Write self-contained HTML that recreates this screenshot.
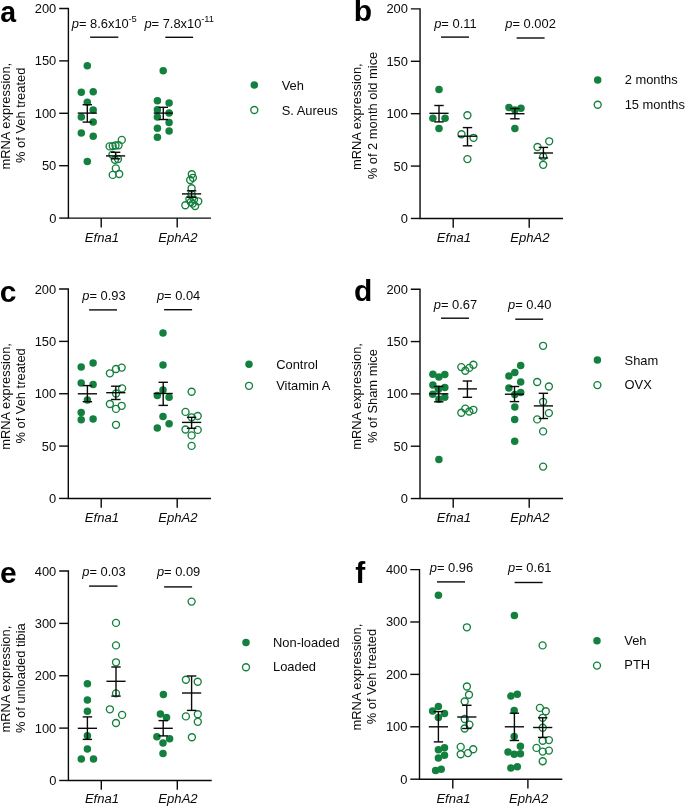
<!DOCTYPE html>
<html><head><meta charset="utf-8"><style>
html,body{margin:0;padding:0;background:#fff;}
svg{display:block;font-family:"Liberation Sans",sans-serif;will-change:transform;}
</style></head><body>
<svg width="685" height="807" viewBox="0 0 685 807">
<rect width="685" height="807" fill="#fff"/>
<text x="0.2" y="21.8" font-size="30" font-weight="bold" fill="#000" transform="translate(0.2,21.8) scale(0.95,1) translate(-0.2,-21.8)">a</text>
<path d="M59.20,8.47H68.40V218.09H211.00" fill="none" stroke="#0a0a0a" stroke-width="1.4" stroke-linejoin="miter"/>
<line x1="59.20" y1="218.09" x2="68.40" y2="218.09" stroke="#0a0a0a" stroke-width="1.4"/>
<text x="56.30" y="222.59" font-size="12.9" text-anchor="end" fill="#0a0a0a" >0</text>
<line x1="59.20" y1="165.69" x2="68.40" y2="165.69" stroke="#0a0a0a" stroke-width="1.4"/>
<text x="56.30" y="170.19" font-size="12.9" text-anchor="end" fill="#0a0a0a" >50</text>
<line x1="59.20" y1="113.28" x2="68.40" y2="113.28" stroke="#0a0a0a" stroke-width="1.4"/>
<text x="56.30" y="117.78" font-size="12.9" text-anchor="end" fill="#0a0a0a" >100</text>
<line x1="59.20" y1="60.88" x2="68.40" y2="60.88" stroke="#0a0a0a" stroke-width="1.4"/>
<text x="56.30" y="65.38" font-size="12.9" text-anchor="end" fill="#0a0a0a" >150</text>
<text x="56.30" y="12.97" font-size="12.9" text-anchor="end" fill="#0a0a0a" >200</text>
<line x1="101.20" y1="218.09" x2="101.20" y2="227.39" stroke="#0a0a0a" stroke-width="1.4"/>
<text x="101.90" y="241.70" font-size="13.1" text-anchor="middle" font-style="italic" fill="#0a0a0a" >Efna1</text>
<line x1="177.20" y1="218.09" x2="177.20" y2="227.39" stroke="#0a0a0a" stroke-width="1.4"/>
<text x="177.90" y="241.70" font-size="13.1" text-anchor="middle" font-style="italic" fill="#0a0a0a" >EphA2</text>
<text transform="translate(9.80,169.56) rotate(-90)" font-size="12.9" fill="#0a0a0a">mRNA expression,</text>
<text transform="translate(25.00,162.96) rotate(-90)" font-size="12.9" fill="#0a0a0a">% of Veh treated</text>
<text x="71.80" y="27.80" font-size="12.9" fill="#0a0a0a"><tspan font-style="italic">p</tspan>= 8.6x10</text>
<text x="128.40" y="21.90" font-size="9.4" text-anchor="start" fill="#0a0a0a" >-5</text>
<line x1="90.10" y1="37.20" x2="118.30" y2="37.20" stroke="#0a0a0a" stroke-width="1.4"/>
<text x="144.40" y="27.80" font-size="12.9" fill="#0a0a0a"><tspan font-style="italic">p</tspan>= 7.8x10</text>
<text x="201.20" y="22.10" font-size="9.4" text-anchor="start" fill="#0a0a0a" >-11</text>
<line x1="165.30" y1="37.30" x2="193.10" y2="37.30" stroke="#0a0a0a" stroke-width="1.4"/>
<circle cx="254.30" cy="85.10" r="3.75" fill="#14803f"/>
<text x="281.70" y="89.60" font-size="12.9" text-anchor="start" fill="#0a0a0a" >Veh</text>
<circle cx="254.30" cy="110.00" r="3.5" fill="none" stroke="#14803f" stroke-width="1.35"/>
<text x="281.70" y="114.50" font-size="12.9" text-anchor="start" fill="#0a0a0a" >S. Aureus</text>
<circle cx="87.30" cy="65.80" r="3.75" fill="#14803f"/>
<circle cx="81.30" cy="92.20" r="3.75" fill="#14803f"/>
<circle cx="93.20" cy="91.70" r="3.75" fill="#14803f"/>
<circle cx="87.30" cy="102.20" r="3.75" fill="#14803f"/>
<circle cx="93.20" cy="110.00" r="3.75" fill="#14803f"/>
<circle cx="81.30" cy="117.00" r="3.75" fill="#14803f"/>
<circle cx="93.20" cy="121.90" r="3.75" fill="#14803f"/>
<circle cx="81.30" cy="132.90" r="3.75" fill="#14803f"/>
<circle cx="93.20" cy="136.30" r="3.75" fill="#14803f"/>
<circle cx="87.30" cy="161.60" r="3.75" fill="#14803f"/>
<circle cx="121.80" cy="139.90" r="3.5" fill="none" stroke="#14803f" stroke-width="1.35"/>
<circle cx="109.60" cy="146.40" r="3.5" fill="none" stroke="#14803f" stroke-width="1.35"/>
<circle cx="112.70" cy="146.10" r="3.5" fill="none" stroke="#14803f" stroke-width="1.35"/>
<circle cx="115.50" cy="145.50" r="3.5" fill="none" stroke="#14803f" stroke-width="1.35"/>
<circle cx="118.60" cy="145.20" r="3.5" fill="none" stroke="#14803f" stroke-width="1.35"/>
<circle cx="112.40" cy="154.80" r="3.5" fill="none" stroke="#14803f" stroke-width="1.35"/>
<circle cx="118.00" cy="159.10" r="3.5" fill="none" stroke="#14803f" stroke-width="1.35"/>
<circle cx="114.90" cy="159.70" r="3.5" fill="none" stroke="#14803f" stroke-width="1.35"/>
<circle cx="115.80" cy="168.40" r="3.5" fill="none" stroke="#14803f" stroke-width="1.35"/>
<circle cx="112.70" cy="174.90" r="3.5" fill="none" stroke="#14803f" stroke-width="1.35"/>
<circle cx="119.20" cy="174.00" r="3.5" fill="none" stroke="#14803f" stroke-width="1.35"/>
<circle cx="163.20" cy="70.85" r="3.75" fill="#14803f"/>
<circle cx="157.40" cy="100.80" r="3.75" fill="#14803f"/>
<circle cx="169.10" cy="103.00" r="3.75" fill="#14803f"/>
<circle cx="157.40" cy="109.65" r="3.75" fill="#14803f"/>
<circle cx="169.10" cy="113.10" r="3.75" fill="#14803f"/>
<circle cx="157.40" cy="116.90" r="3.75" fill="#14803f"/>
<circle cx="169.10" cy="122.60" r="3.75" fill="#14803f"/>
<circle cx="157.40" cy="128.20" r="3.75" fill="#14803f"/>
<circle cx="169.10" cy="131.10" r="3.75" fill="#14803f"/>
<circle cx="157.40" cy="137.30" r="3.75" fill="#14803f"/>
<circle cx="191.80" cy="174.20" r="3.5" fill="none" stroke="#14803f" stroke-width="1.35"/>
<circle cx="192.90" cy="177.80" r="3.5" fill="none" stroke="#14803f" stroke-width="1.35"/>
<circle cx="190.20" cy="180.00" r="3.5" fill="none" stroke="#14803f" stroke-width="1.35"/>
<circle cx="191.60" cy="188.20" r="3.5" fill="none" stroke="#14803f" stroke-width="1.35"/>
<circle cx="191.60" cy="194.30" r="3.5" fill="none" stroke="#14803f" stroke-width="1.35"/>
<circle cx="189.40" cy="199.30" r="3.5" fill="none" stroke="#14803f" stroke-width="1.35"/>
<circle cx="194.00" cy="199.60" r="3.5" fill="none" stroke="#14803f" stroke-width="1.35"/>
<circle cx="190.80" cy="202.00" r="3.5" fill="none" stroke="#14803f" stroke-width="1.35"/>
<circle cx="192.60" cy="203.60" r="3.5" fill="none" stroke="#14803f" stroke-width="1.35"/>
<circle cx="198.30" cy="201.30" r="3.5" fill="none" stroke="#14803f" stroke-width="1.35"/>
<circle cx="185.30" cy="205.20" r="3.5" fill="none" stroke="#14803f" stroke-width="1.35"/>
<circle cx="195.10" cy="206.00" r="3.5" fill="none" stroke="#14803f" stroke-width="1.35"/>
<line x1="77.70" y1="113.10" x2="96.90" y2="113.10" stroke="#0a0a0a" stroke-width="1.4"/>
<line x1="87.30" y1="104.70" x2="87.30" y2="122.10" stroke="#0a0a0a" stroke-width="1.4"/>
<line x1="82.60" y1="104.70" x2="92.00" y2="104.70" stroke="#0a0a0a" stroke-width="1.4"/>
<line x1="82.60" y1="122.10" x2="92.00" y2="122.10" stroke="#0a0a0a" stroke-width="1.4"/>
<line x1="106.00" y1="155.90" x2="125.20" y2="155.90" stroke="#0a0a0a" stroke-width="1.4"/>
<line x1="115.60" y1="152.30" x2="115.60" y2="158.80" stroke="#0a0a0a" stroke-width="1.4"/>
<line x1="110.90" y1="152.30" x2="120.30" y2="152.30" stroke="#0a0a0a" stroke-width="1.4"/>
<line x1="110.90" y1="158.80" x2="120.30" y2="158.80" stroke="#0a0a0a" stroke-width="1.4"/>
<line x1="153.70" y1="113.10" x2="172.90" y2="113.10" stroke="#0a0a0a" stroke-width="1.4"/>
<line x1="163.30" y1="107.30" x2="163.30" y2="119.50" stroke="#0a0a0a" stroke-width="1.4"/>
<line x1="158.60" y1="107.30" x2="168.00" y2="107.30" stroke="#0a0a0a" stroke-width="1.4"/>
<line x1="158.60" y1="119.50" x2="168.00" y2="119.50" stroke="#0a0a0a" stroke-width="1.4"/>
<line x1="182.00" y1="193.90" x2="201.20" y2="193.90" stroke="#0a0a0a" stroke-width="1.4"/>
<line x1="191.60" y1="190.80" x2="191.60" y2="197.30" stroke="#0a0a0a" stroke-width="1.4"/>
<line x1="186.90" y1="190.80" x2="196.30" y2="190.80" stroke="#0a0a0a" stroke-width="1.4"/>
<line x1="186.90" y1="197.30" x2="196.30" y2="197.30" stroke="#0a0a0a" stroke-width="1.4"/>
<text x="353.8" y="21.3" font-size="30" font-weight="bold" fill="#000" transform="translate(353.8,21.3) scale(1.0,1) translate(-353.8,-21.3)">b</text>
<path d="M410.85,8.90H420.05V218.46H563.00" fill="none" stroke="#0a0a0a" stroke-width="1.4" stroke-linejoin="miter"/>
<line x1="410.85" y1="218.46" x2="420.05" y2="218.46" stroke="#0a0a0a" stroke-width="1.4"/>
<text x="407.95" y="222.96" font-size="12.9" text-anchor="end" fill="#0a0a0a" >0</text>
<line x1="410.85" y1="166.07" x2="420.05" y2="166.07" stroke="#0a0a0a" stroke-width="1.4"/>
<text x="407.95" y="170.57" font-size="12.9" text-anchor="end" fill="#0a0a0a" >50</text>
<line x1="410.85" y1="113.68" x2="420.05" y2="113.68" stroke="#0a0a0a" stroke-width="1.4"/>
<text x="407.95" y="118.18" font-size="12.9" text-anchor="end" fill="#0a0a0a" >100</text>
<line x1="410.85" y1="61.29" x2="420.05" y2="61.29" stroke="#0a0a0a" stroke-width="1.4"/>
<text x="407.95" y="65.79" font-size="12.9" text-anchor="end" fill="#0a0a0a" >150</text>
<text x="407.95" y="13.40" font-size="12.9" text-anchor="end" fill="#0a0a0a" >200</text>
<line x1="453.20" y1="218.46" x2="453.20" y2="227.76" stroke="#0a0a0a" stroke-width="1.4"/>
<text x="453.90" y="242.00" font-size="13.1" text-anchor="middle" font-style="italic" fill="#0a0a0a" >Efna1</text>
<line x1="529.20" y1="218.46" x2="529.20" y2="227.76" stroke="#0a0a0a" stroke-width="1.4"/>
<text x="529.90" y="242.00" font-size="13.1" text-anchor="middle" font-style="italic" fill="#0a0a0a" >EphA2</text>
<text transform="translate(360.90,170.06) rotate(-90)" font-size="12.9" fill="#0a0a0a">mRNA expression,</text>
<text transform="translate(376.90,179.26) rotate(-90)" font-size="12.9" fill="#0a0a0a">% of 2 month old mice</text>
<text x="434.20" y="27.90" font-size="12.9" fill="#0a0a0a"><tspan font-style="italic">p</tspan>= 0.11</text>
<line x1="441.00" y1="37.10" x2="469.00" y2="37.10" stroke="#0a0a0a" stroke-width="1.4"/>
<text x="505.30" y="27.90" font-size="12.9" fill="#0a0a0a"><tspan font-style="italic">p</tspan>= 0.002</text>
<line x1="516.60" y1="38.00" x2="544.60" y2="38.00" stroke="#0a0a0a" stroke-width="1.4"/>
<circle cx="597.70" cy="80.00" r="3.75" fill="#14803f"/>
<text x="624.70" y="84.40" font-size="12.9" text-anchor="start" fill="#0a0a0a" >2 months</text>
<circle cx="597.70" cy="104.70" r="3.5" fill="none" stroke="#14803f" stroke-width="1.35"/>
<text x="624.70" y="109.10" font-size="12.9" text-anchor="start" fill="#0a0a0a" >15 months</text>
<circle cx="439.00" cy="89.60" r="3.75" fill="#14803f"/>
<circle cx="432.90" cy="118.20" r="3.75" fill="#14803f"/>
<circle cx="445.10" cy="118.20" r="3.75" fill="#14803f"/>
<circle cx="439.00" cy="128.40" r="3.75" fill="#14803f"/>
<circle cx="467.40" cy="115.20" r="3.5" fill="none" stroke="#14803f" stroke-width="1.35"/>
<circle cx="461.50" cy="134.20" r="3.5" fill="none" stroke="#14803f" stroke-width="1.35"/>
<circle cx="473.50" cy="137.80" r="3.5" fill="none" stroke="#14803f" stroke-width="1.35"/>
<circle cx="467.40" cy="159.10" r="3.5" fill="none" stroke="#14803f" stroke-width="1.35"/>
<circle cx="509.00" cy="107.40" r="3.75" fill="#14803f"/>
<circle cx="521.00" cy="108.30" r="3.75" fill="#14803f"/>
<circle cx="514.90" cy="110.10" r="3.75" fill="#14803f"/>
<circle cx="514.90" cy="128.50" r="3.75" fill="#14803f"/>
<circle cx="549.20" cy="141.30" r="3.5" fill="none" stroke="#14803f" stroke-width="1.35"/>
<circle cx="537.50" cy="147.00" r="3.5" fill="none" stroke="#14803f" stroke-width="1.35"/>
<circle cx="543.20" cy="156.60" r="3.5" fill="none" stroke="#14803f" stroke-width="1.35"/>
<circle cx="543.20" cy="164.80" r="3.5" fill="none" stroke="#14803f" stroke-width="1.35"/>
<line x1="429.40" y1="113.30" x2="448.60" y2="113.30" stroke="#0a0a0a" stroke-width="1.4"/>
<line x1="439.00" y1="105.50" x2="439.00" y2="121.90" stroke="#0a0a0a" stroke-width="1.4"/>
<line x1="434.30" y1="105.50" x2="443.70" y2="105.50" stroke="#0a0a0a" stroke-width="1.4"/>
<line x1="434.30" y1="121.90" x2="443.70" y2="121.90" stroke="#0a0a0a" stroke-width="1.4"/>
<line x1="457.90" y1="136.20" x2="477.10" y2="136.20" stroke="#0a0a0a" stroke-width="1.4"/>
<line x1="467.50" y1="127.60" x2="467.50" y2="145.80" stroke="#0a0a0a" stroke-width="1.4"/>
<line x1="462.80" y1="127.60" x2="472.20" y2="127.60" stroke="#0a0a0a" stroke-width="1.4"/>
<line x1="462.80" y1="145.80" x2="472.20" y2="145.80" stroke="#0a0a0a" stroke-width="1.4"/>
<line x1="505.30" y1="113.70" x2="524.50" y2="113.70" stroke="#0a0a0a" stroke-width="1.4"/>
<line x1="514.90" y1="108.50" x2="514.90" y2="118.80" stroke="#0a0a0a" stroke-width="1.4"/>
<line x1="510.20" y1="108.50" x2="519.60" y2="108.50" stroke="#0a0a0a" stroke-width="1.4"/>
<line x1="510.20" y1="118.80" x2="519.60" y2="118.80" stroke="#0a0a0a" stroke-width="1.4"/>
<line x1="533.80" y1="153.00" x2="553.00" y2="153.00" stroke="#0a0a0a" stroke-width="1.4"/>
<line x1="543.40" y1="147.40" x2="543.40" y2="158.00" stroke="#0a0a0a" stroke-width="1.4"/>
<line x1="538.70" y1="147.40" x2="548.10" y2="147.40" stroke="#0a0a0a" stroke-width="1.4"/>
<line x1="538.70" y1="158.00" x2="548.10" y2="158.00" stroke="#0a0a0a" stroke-width="1.4"/>
<text x="-0.3" y="301.6" font-size="30" font-weight="bold" fill="#000" transform="translate(-0.3,301.6) scale(1.0,1) translate(0.3,-301.6)">c</text>
<path d="M59.10,289.04H68.30V498.43H211.00" fill="none" stroke="#0a0a0a" stroke-width="1.4" stroke-linejoin="miter"/>
<line x1="59.10" y1="498.43" x2="68.30" y2="498.43" stroke="#0a0a0a" stroke-width="1.4"/>
<text x="56.20" y="502.93" font-size="12.9" text-anchor="end" fill="#0a0a0a" >0</text>
<line x1="59.10" y1="446.08" x2="68.30" y2="446.08" stroke="#0a0a0a" stroke-width="1.4"/>
<text x="56.20" y="450.58" font-size="12.9" text-anchor="end" fill="#0a0a0a" >50</text>
<line x1="59.10" y1="393.74" x2="68.30" y2="393.74" stroke="#0a0a0a" stroke-width="1.4"/>
<text x="56.20" y="398.24" font-size="12.9" text-anchor="end" fill="#0a0a0a" >100</text>
<line x1="59.10" y1="341.39" x2="68.30" y2="341.39" stroke="#0a0a0a" stroke-width="1.4"/>
<text x="56.20" y="345.89" font-size="12.9" text-anchor="end" fill="#0a0a0a" >150</text>
<text x="56.20" y="293.54" font-size="12.9" text-anchor="end" fill="#0a0a0a" >200</text>
<line x1="101.20" y1="498.43" x2="101.20" y2="507.73" stroke="#0a0a0a" stroke-width="1.4"/>
<text x="101.90" y="522.10" font-size="13.1" text-anchor="middle" font-style="italic" fill="#0a0a0a" >Efna1</text>
<line x1="177.20" y1="498.43" x2="177.20" y2="507.73" stroke="#0a0a0a" stroke-width="1.4"/>
<text x="177.90" y="522.10" font-size="13.1" text-anchor="middle" font-style="italic" fill="#0a0a0a" >EphA2</text>
<text transform="translate(9.80,449.86) rotate(-90)" font-size="12.9" fill="#0a0a0a">mRNA expression,</text>
<text transform="translate(25.05,443.56) rotate(-90)" font-size="12.9" fill="#0a0a0a">% of Veh treated</text>
<text x="82.30" y="299.90" font-size="12.9" fill="#0a0a0a"><tspan font-style="italic">p</tspan>= 0.93</text>
<line x1="89.10" y1="309.90" x2="117.00" y2="309.90" stroke="#0a0a0a" stroke-width="1.4"/>
<text x="156.90" y="299.90" font-size="12.9" fill="#0a0a0a"><tspan font-style="italic">p</tspan>= 0.04</text>
<line x1="164.10" y1="309.70" x2="192.10" y2="309.70" stroke="#0a0a0a" stroke-width="1.4"/>
<circle cx="249.00" cy="364.20" r="3.75" fill="#14803f"/>
<text x="276.20" y="368.70" font-size="12.9" text-anchor="start" fill="#0a0a0a" >Control</text>
<circle cx="249.00" cy="385.80" r="3.5" fill="none" stroke="#14803f" stroke-width="1.35"/>
<text x="276.20" y="390.10" font-size="12.9" text-anchor="start" fill="#0a0a0a" >Vitamin A</text>
<circle cx="81.20" cy="367.00" r="3.75" fill="#14803f"/>
<circle cx="93.10" cy="363.10" r="3.75" fill="#14803f"/>
<circle cx="81.20" cy="382.90" r="3.75" fill="#14803f"/>
<circle cx="93.10" cy="384.60" r="3.75" fill="#14803f"/>
<circle cx="87.40" cy="399.90" r="3.75" fill="#14803f"/>
<circle cx="81.20" cy="412.60" r="3.75" fill="#14803f"/>
<circle cx="81.20" cy="419.70" r="3.75" fill="#14803f"/>
<circle cx="93.10" cy="419.10" r="3.75" fill="#14803f"/>
<circle cx="109.90" cy="373.30" r="3.5" fill="none" stroke="#14803f" stroke-width="1.35"/>
<circle cx="116.00" cy="369.00" r="3.5" fill="none" stroke="#14803f" stroke-width="1.35"/>
<circle cx="121.70" cy="367.60" r="3.5" fill="none" stroke="#14803f" stroke-width="1.35"/>
<circle cx="122.10" cy="388.40" r="3.5" fill="none" stroke="#14803f" stroke-width="1.35"/>
<circle cx="116.00" cy="393.50" r="3.5" fill="none" stroke="#14803f" stroke-width="1.35"/>
<circle cx="109.90" cy="404.00" r="3.5" fill="none" stroke="#14803f" stroke-width="1.35"/>
<circle cx="121.70" cy="405.80" r="3.5" fill="none" stroke="#14803f" stroke-width="1.35"/>
<circle cx="116.00" cy="408.90" r="3.5" fill="none" stroke="#14803f" stroke-width="1.35"/>
<circle cx="116.00" cy="424.80" r="3.5" fill="none" stroke="#14803f" stroke-width="1.35"/>
<circle cx="163.00" cy="333.10" r="3.75" fill="#14803f"/>
<circle cx="163.00" cy="364.90" r="3.75" fill="#14803f"/>
<circle cx="163.00" cy="390.10" r="3.75" fill="#14803f"/>
<circle cx="157.30" cy="395.60" r="3.75" fill="#14803f"/>
<circle cx="169.10" cy="397.20" r="3.75" fill="#14803f"/>
<circle cx="163.00" cy="416.60" r="3.75" fill="#14803f"/>
<circle cx="169.10" cy="423.80" r="3.75" fill="#14803f"/>
<circle cx="157.30" cy="427.90" r="3.75" fill="#14803f"/>
<circle cx="191.60" cy="391.70" r="3.5" fill="none" stroke="#14803f" stroke-width="1.35"/>
<circle cx="185.50" cy="411.90" r="3.5" fill="none" stroke="#14803f" stroke-width="1.35"/>
<circle cx="191.60" cy="417.30" r="3.5" fill="none" stroke="#14803f" stroke-width="1.35"/>
<circle cx="197.70" cy="416.00" r="3.5" fill="none" stroke="#14803f" stroke-width="1.35"/>
<circle cx="185.50" cy="429.50" r="3.5" fill="none" stroke="#14803f" stroke-width="1.35"/>
<circle cx="197.70" cy="429.90" r="3.5" fill="none" stroke="#14803f" stroke-width="1.35"/>
<circle cx="191.60" cy="435.40" r="3.5" fill="none" stroke="#14803f" stroke-width="1.35"/>
<circle cx="191.60" cy="445.90" r="3.5" fill="none" stroke="#14803f" stroke-width="1.35"/>
<line x1="77.80" y1="393.80" x2="97.00" y2="393.80" stroke="#0a0a0a" stroke-width="1.4"/>
<line x1="87.40" y1="385.60" x2="87.40" y2="401.70" stroke="#0a0a0a" stroke-width="1.4"/>
<line x1="82.70" y1="385.60" x2="92.10" y2="385.60" stroke="#0a0a0a" stroke-width="1.4"/>
<line x1="82.70" y1="401.70" x2="92.10" y2="401.70" stroke="#0a0a0a" stroke-width="1.4"/>
<line x1="106.20" y1="392.70" x2="125.40" y2="392.70" stroke="#0a0a0a" stroke-width="1.4"/>
<line x1="115.80" y1="386.20" x2="115.80" y2="399.50" stroke="#0a0a0a" stroke-width="1.4"/>
<line x1="111.10" y1="386.20" x2="120.50" y2="386.20" stroke="#0a0a0a" stroke-width="1.4"/>
<line x1="111.10" y1="399.50" x2="120.50" y2="399.50" stroke="#0a0a0a" stroke-width="1.4"/>
<line x1="153.60" y1="393.50" x2="172.80" y2="393.50" stroke="#0a0a0a" stroke-width="1.4"/>
<line x1="163.20" y1="382.30" x2="163.20" y2="405.40" stroke="#0a0a0a" stroke-width="1.4"/>
<line x1="158.50" y1="382.30" x2="167.90" y2="382.30" stroke="#0a0a0a" stroke-width="1.4"/>
<line x1="158.50" y1="405.40" x2="167.90" y2="405.40" stroke="#0a0a0a" stroke-width="1.4"/>
<line x1="182.00" y1="422.40" x2="201.20" y2="422.40" stroke="#0a0a0a" stroke-width="1.4"/>
<line x1="191.60" y1="417.30" x2="191.60" y2="428.30" stroke="#0a0a0a" stroke-width="1.4"/>
<line x1="186.90" y1="417.30" x2="196.30" y2="417.30" stroke="#0a0a0a" stroke-width="1.4"/>
<line x1="186.90" y1="428.30" x2="196.30" y2="428.30" stroke="#0a0a0a" stroke-width="1.4"/>
<text x="353.9" y="301.2" font-size="30" font-weight="bold" fill="#000" transform="translate(353.9,301.2) scale(1.0,1) translate(-353.9,-301.2)">d</text>
<path d="M410.80,289.24H420.00V498.55H563.00" fill="none" stroke="#0a0a0a" stroke-width="1.4" stroke-linejoin="miter"/>
<line x1="410.80" y1="498.55" x2="420.00" y2="498.55" stroke="#0a0a0a" stroke-width="1.4"/>
<text x="407.90" y="503.05" font-size="12.9" text-anchor="end" fill="#0a0a0a" >0</text>
<line x1="410.80" y1="446.22" x2="420.00" y2="446.22" stroke="#0a0a0a" stroke-width="1.4"/>
<text x="407.90" y="450.72" font-size="12.9" text-anchor="end" fill="#0a0a0a" >50</text>
<line x1="410.80" y1="393.89" x2="420.00" y2="393.89" stroke="#0a0a0a" stroke-width="1.4"/>
<text x="407.90" y="398.39" font-size="12.9" text-anchor="end" fill="#0a0a0a" >100</text>
<line x1="410.80" y1="341.57" x2="420.00" y2="341.57" stroke="#0a0a0a" stroke-width="1.4"/>
<text x="407.90" y="346.07" font-size="12.9" text-anchor="end" fill="#0a0a0a" >150</text>
<text x="407.90" y="293.74" font-size="12.9" text-anchor="end" fill="#0a0a0a" >200</text>
<line x1="453.20" y1="498.55" x2="453.20" y2="507.85" stroke="#0a0a0a" stroke-width="1.4"/>
<text x="453.90" y="522.10" font-size="13.1" text-anchor="middle" font-style="italic" fill="#0a0a0a" >Efna1</text>
<line x1="529.20" y1="498.55" x2="529.20" y2="507.85" stroke="#0a0a0a" stroke-width="1.4"/>
<text x="529.90" y="522.10" font-size="13.1" text-anchor="middle" font-style="italic" fill="#0a0a0a" >EphA2</text>
<text transform="translate(361.10,449.86) rotate(-90)" font-size="12.9" fill="#0a0a0a">mRNA expression,</text>
<text transform="translate(376.90,442.96) rotate(-90)" font-size="12.9" fill="#0a0a0a">% of Sham mice</text>
<text x="433.80" y="309.40" font-size="12.9" fill="#0a0a0a"><tspan font-style="italic">p</tspan>= 0.67</text>
<line x1="441.00" y1="318.20" x2="469.00" y2="318.20" stroke="#0a0a0a" stroke-width="1.4"/>
<text x="508.00" y="309.40" font-size="12.9" fill="#0a0a0a"><tspan font-style="italic">p</tspan>= 0.40</text>
<line x1="515.30" y1="319.20" x2="543.10" y2="319.20" stroke="#0a0a0a" stroke-width="1.4"/>
<circle cx="597.40" cy="360.00" r="3.75" fill="#14803f"/>
<text x="624.60" y="364.70" font-size="12.9" text-anchor="start" fill="#0a0a0a" >Sham</text>
<circle cx="597.40" cy="385.10" r="3.5" fill="none" stroke="#14803f" stroke-width="1.35"/>
<text x="624.60" y="389.20" font-size="12.9" text-anchor="start" fill="#0a0a0a" >OVX</text>
<circle cx="432.90" cy="374.20" r="3.75" fill="#14803f"/>
<circle cx="444.80" cy="374.40" r="3.75" fill="#14803f"/>
<circle cx="438.90" cy="377.10" r="3.75" fill="#14803f"/>
<circle cx="432.90" cy="385.10" r="3.75" fill="#14803f"/>
<circle cx="444.80" cy="387.60" r="3.75" fill="#14803f"/>
<circle cx="438.40" cy="389.30" r="3.75" fill="#14803f"/>
<circle cx="432.70" cy="394.30" r="3.75" fill="#14803f"/>
<circle cx="444.80" cy="397.20" r="3.75" fill="#14803f"/>
<circle cx="438.90" cy="399.20" r="3.75" fill="#14803f"/>
<circle cx="438.90" cy="459.50" r="3.75" fill="#14803f"/>
<circle cx="461.30" cy="367.10" r="3.5" fill="none" stroke="#14803f" stroke-width="1.35"/>
<circle cx="465.30" cy="370.70" r="3.5" fill="none" stroke="#14803f" stroke-width="1.35"/>
<circle cx="469.30" cy="367.90" r="3.5" fill="none" stroke="#14803f" stroke-width="1.35"/>
<circle cx="473.40" cy="364.70" r="3.5" fill="none" stroke="#14803f" stroke-width="1.35"/>
<circle cx="461.30" cy="412.70" r="3.5" fill="none" stroke="#14803f" stroke-width="1.35"/>
<circle cx="465.30" cy="408.60" r="3.5" fill="none" stroke="#14803f" stroke-width="1.35"/>
<circle cx="469.30" cy="411.50" r="3.5" fill="none" stroke="#14803f" stroke-width="1.35"/>
<circle cx="473.40" cy="409.80" r="3.5" fill="none" stroke="#14803f" stroke-width="1.35"/>
<circle cx="520.70" cy="365.40" r="3.75" fill="#14803f"/>
<circle cx="514.80" cy="372.40" r="3.75" fill="#14803f"/>
<circle cx="508.90" cy="376.00" r="3.75" fill="#14803f"/>
<circle cx="520.70" cy="382.10" r="3.75" fill="#14803f"/>
<circle cx="508.90" cy="388.10" r="3.75" fill="#14803f"/>
<circle cx="520.70" cy="392.50" r="3.75" fill="#14803f"/>
<circle cx="514.80" cy="394.50" r="3.75" fill="#14803f"/>
<circle cx="514.80" cy="407.10" r="3.75" fill="#14803f"/>
<circle cx="514.70" cy="419.40" r="3.75" fill="#14803f"/>
<circle cx="514.70" cy="441.30" r="3.75" fill="#14803f"/>
<circle cx="543.10" cy="345.80" r="3.5" fill="none" stroke="#14803f" stroke-width="1.35"/>
<circle cx="537.20" cy="382.00" r="3.5" fill="none" stroke="#14803f" stroke-width="1.35"/>
<circle cx="548.90" cy="386.50" r="3.5" fill="none" stroke="#14803f" stroke-width="1.35"/>
<circle cx="543.10" cy="401.80" r="3.5" fill="none" stroke="#14803f" stroke-width="1.35"/>
<circle cx="548.90" cy="413.10" r="3.5" fill="none" stroke="#14803f" stroke-width="1.35"/>
<circle cx="537.20" cy="419.40" r="3.5" fill="none" stroke="#14803f" stroke-width="1.35"/>
<circle cx="543.10" cy="431.40" r="3.5" fill="none" stroke="#14803f" stroke-width="1.35"/>
<circle cx="543.10" cy="466.60" r="3.5" fill="none" stroke="#14803f" stroke-width="1.35"/>
<line x1="429.20" y1="393.80" x2="448.40" y2="393.80" stroke="#0a0a0a" stroke-width="1.4"/>
<line x1="438.80" y1="386.40" x2="438.80" y2="401.80" stroke="#0a0a0a" stroke-width="1.4"/>
<line x1="434.10" y1="386.40" x2="443.50" y2="386.40" stroke="#0a0a0a" stroke-width="1.4"/>
<line x1="434.10" y1="401.80" x2="443.50" y2="401.80" stroke="#0a0a0a" stroke-width="1.4"/>
<line x1="457.80" y1="388.90" x2="477.00" y2="388.90" stroke="#0a0a0a" stroke-width="1.4"/>
<line x1="467.40" y1="381.00" x2="467.40" y2="397.30" stroke="#0a0a0a" stroke-width="1.4"/>
<line x1="462.70" y1="381.00" x2="472.10" y2="381.00" stroke="#0a0a0a" stroke-width="1.4"/>
<line x1="462.70" y1="397.30" x2="472.10" y2="397.30" stroke="#0a0a0a" stroke-width="1.4"/>
<line x1="504.90" y1="394.20" x2="524.10" y2="394.20" stroke="#0a0a0a" stroke-width="1.4"/>
<line x1="514.50" y1="386.50" x2="514.50" y2="401.60" stroke="#0a0a0a" stroke-width="1.4"/>
<line x1="509.80" y1="386.50" x2="519.20" y2="386.50" stroke="#0a0a0a" stroke-width="1.4"/>
<line x1="509.80" y1="401.60" x2="519.20" y2="401.60" stroke="#0a0a0a" stroke-width="1.4"/>
<line x1="533.80" y1="405.90" x2="553.00" y2="405.90" stroke="#0a0a0a" stroke-width="1.4"/>
<line x1="543.40" y1="393.30" x2="543.40" y2="418.50" stroke="#0a0a0a" stroke-width="1.4"/>
<line x1="538.70" y1="393.30" x2="548.10" y2="393.30" stroke="#0a0a0a" stroke-width="1.4"/>
<line x1="538.70" y1="418.50" x2="548.10" y2="418.50" stroke="#0a0a0a" stroke-width="1.4"/>
<text x="0.0" y="582.6" font-size="30" font-weight="bold" fill="#000" transform="translate(0.0,582.6) scale(1.0,1) translate(-0.0,-582.6)">e</text>
<path d="M59.20,571.04H68.40V780.47H211.70" fill="none" stroke="#0a0a0a" stroke-width="1.4" stroke-linejoin="miter"/>
<line x1="59.20" y1="780.47" x2="68.40" y2="780.47" stroke="#0a0a0a" stroke-width="1.4"/>
<text x="56.30" y="784.97" font-size="12.9" text-anchor="end" fill="#0a0a0a" >0</text>
<line x1="59.20" y1="728.11" x2="68.40" y2="728.11" stroke="#0a0a0a" stroke-width="1.4"/>
<text x="56.30" y="732.61" font-size="12.9" text-anchor="end" fill="#0a0a0a" >100</text>
<line x1="59.20" y1="675.75" x2="68.40" y2="675.75" stroke="#0a0a0a" stroke-width="1.4"/>
<text x="56.30" y="680.25" font-size="12.9" text-anchor="end" fill="#0a0a0a" >200</text>
<line x1="59.20" y1="623.40" x2="68.40" y2="623.40" stroke="#0a0a0a" stroke-width="1.4"/>
<text x="56.30" y="627.90" font-size="12.9" text-anchor="end" fill="#0a0a0a" >300</text>
<text x="56.30" y="575.54" font-size="12.9" text-anchor="end" fill="#0a0a0a" >400</text>
<line x1="101.30" y1="780.47" x2="101.30" y2="789.77" stroke="#0a0a0a" stroke-width="1.4"/>
<text x="102.00" y="803.20" font-size="13.1" text-anchor="middle" font-style="italic" fill="#0a0a0a" >Efna1</text>
<line x1="177.30" y1="780.47" x2="177.30" y2="789.77" stroke="#0a0a0a" stroke-width="1.4"/>
<text x="178.00" y="803.20" font-size="13.1" text-anchor="middle" font-style="italic" fill="#0a0a0a" >EphA2</text>
<text transform="translate(9.80,732.46) rotate(-90)" font-size="12.9" fill="#0a0a0a">mRNA expression,</text>
<text transform="translate(25.10,732.96) rotate(-90)" font-size="12.9" fill="#0a0a0a">% of unloaded tibia</text>
<text x="82.30" y="576.20" font-size="12.9" fill="#0a0a0a"><tspan font-style="italic">p</tspan>= 0.03</text>
<line x1="89.10" y1="586.10" x2="117.50" y2="586.10" stroke="#0a0a0a" stroke-width="1.4"/>
<text x="156.90" y="576.20" font-size="12.9" fill="#0a0a0a"><tspan font-style="italic">p</tspan>= 0.09</text>
<line x1="164.10" y1="586.90" x2="192.10" y2="586.90" stroke="#0a0a0a" stroke-width="1.4"/>
<circle cx="246.00" cy="642.40" r="3.75" fill="#14803f"/>
<text x="273.00" y="646.50" font-size="12.9" text-anchor="start" fill="#0a0a0a" >Non-loaded</text>
<circle cx="246.00" cy="667.20" r="3.5" fill="none" stroke="#14803f" stroke-width="1.35"/>
<text x="273.00" y="671.30" font-size="12.9" text-anchor="start" fill="#0a0a0a" >Loaded</text>
<circle cx="87.40" cy="683.80" r="3.75" fill="#14803f"/>
<circle cx="87.40" cy="700.10" r="3.75" fill="#14803f"/>
<circle cx="87.40" cy="711.30" r="3.75" fill="#14803f"/>
<circle cx="87.40" cy="735.80" r="3.75" fill="#14803f"/>
<circle cx="87.40" cy="749.10" r="3.75" fill="#14803f"/>
<circle cx="81.30" cy="758.90" r="3.75" fill="#14803f"/>
<circle cx="93.50" cy="758.90" r="3.75" fill="#14803f"/>
<circle cx="116.00" cy="622.90" r="3.5" fill="none" stroke="#14803f" stroke-width="1.35"/>
<circle cx="116.00" cy="645.40" r="3.5" fill="none" stroke="#14803f" stroke-width="1.35"/>
<circle cx="116.00" cy="662.30" r="3.5" fill="none" stroke="#14803f" stroke-width="1.35"/>
<circle cx="116.00" cy="693.40" r="3.5" fill="none" stroke="#14803f" stroke-width="1.35"/>
<circle cx="109.90" cy="709.30" r="3.5" fill="none" stroke="#14803f" stroke-width="1.35"/>
<circle cx="122.10" cy="714.90" r="3.5" fill="none" stroke="#14803f" stroke-width="1.35"/>
<circle cx="116.00" cy="723.00" r="3.5" fill="none" stroke="#14803f" stroke-width="1.35"/>
<circle cx="163.40" cy="694.60" r="3.75" fill="#14803f"/>
<circle cx="160.40" cy="713.90" r="3.75" fill="#14803f"/>
<circle cx="166.50" cy="717.40" r="3.75" fill="#14803f"/>
<circle cx="156.90" cy="736.80" r="3.75" fill="#14803f"/>
<circle cx="169.60" cy="738.80" r="3.75" fill="#14803f"/>
<circle cx="163.00" cy="742.90" r="3.75" fill="#14803f"/>
<circle cx="163.00" cy="753.50" r="3.75" fill="#14803f"/>
<circle cx="191.60" cy="601.60" r="3.5" fill="none" stroke="#14803f" stroke-width="1.35"/>
<circle cx="185.90" cy="679.70" r="3.5" fill="none" stroke="#14803f" stroke-width="1.35"/>
<circle cx="197.70" cy="681.70" r="3.5" fill="none" stroke="#14803f" stroke-width="1.35"/>
<circle cx="185.90" cy="716.40" r="3.5" fill="none" stroke="#14803f" stroke-width="1.35"/>
<circle cx="197.80" cy="714.20" r="3.5" fill="none" stroke="#14803f" stroke-width="1.35"/>
<circle cx="197.80" cy="721.80" r="3.5" fill="none" stroke="#14803f" stroke-width="1.35"/>
<circle cx="191.90" cy="737.20" r="3.5" fill="none" stroke="#14803f" stroke-width="1.35"/>
<line x1="77.80" y1="728.30" x2="97.00" y2="728.30" stroke="#0a0a0a" stroke-width="1.4"/>
<line x1="87.40" y1="716.90" x2="87.40" y2="739.40" stroke="#0a0a0a" stroke-width="1.4"/>
<line x1="82.70" y1="716.90" x2="92.10" y2="716.90" stroke="#0a0a0a" stroke-width="1.4"/>
<line x1="82.70" y1="739.40" x2="92.10" y2="739.40" stroke="#0a0a0a" stroke-width="1.4"/>
<line x1="106.40" y1="681.30" x2="125.60" y2="681.30" stroke="#0a0a0a" stroke-width="1.4"/>
<line x1="116.00" y1="667.00" x2="116.00" y2="696.10" stroke="#0a0a0a" stroke-width="1.4"/>
<line x1="111.30" y1="667.00" x2="120.70" y2="667.00" stroke="#0a0a0a" stroke-width="1.4"/>
<line x1="111.30" y1="696.10" x2="120.70" y2="696.10" stroke="#0a0a0a" stroke-width="1.4"/>
<line x1="153.60" y1="728.30" x2="172.80" y2="728.30" stroke="#0a0a0a" stroke-width="1.4"/>
<line x1="163.20" y1="720.60" x2="163.20" y2="735.90" stroke="#0a0a0a" stroke-width="1.4"/>
<line x1="158.50" y1="720.60" x2="167.90" y2="720.60" stroke="#0a0a0a" stroke-width="1.4"/>
<line x1="158.50" y1="735.90" x2="167.90" y2="735.90" stroke="#0a0a0a" stroke-width="1.4"/>
<line x1="182.00" y1="693.00" x2="201.20" y2="693.00" stroke="#0a0a0a" stroke-width="1.4"/>
<line x1="191.60" y1="676.00" x2="191.60" y2="710.40" stroke="#0a0a0a" stroke-width="1.4"/>
<line x1="186.90" y1="676.00" x2="196.30" y2="676.00" stroke="#0a0a0a" stroke-width="1.4"/>
<line x1="186.90" y1="710.40" x2="196.30" y2="710.40" stroke="#0a0a0a" stroke-width="1.4"/>
<text x="355.2" y="582.7" font-size="30" font-weight="bold" fill="#000" transform="translate(355.2,582.7) scale(1.0,1) translate(-355.2,-582.7)">f</text>
<path d="M410.30,569.58H419.50V779.19H562.30" fill="none" stroke="#0a0a0a" stroke-width="1.4" stroke-linejoin="miter"/>
<line x1="410.30" y1="779.19" x2="419.50" y2="779.19" stroke="#0a0a0a" stroke-width="1.4"/>
<text x="407.40" y="783.69" font-size="12.9" text-anchor="end" fill="#0a0a0a" >0</text>
<line x1="410.30" y1="726.79" x2="419.50" y2="726.79" stroke="#0a0a0a" stroke-width="1.4"/>
<text x="407.40" y="731.29" font-size="12.9" text-anchor="end" fill="#0a0a0a" >100</text>
<line x1="410.30" y1="674.38" x2="419.50" y2="674.38" stroke="#0a0a0a" stroke-width="1.4"/>
<text x="407.40" y="678.88" font-size="12.9" text-anchor="end" fill="#0a0a0a" >200</text>
<line x1="410.30" y1="621.98" x2="419.50" y2="621.98" stroke="#0a0a0a" stroke-width="1.4"/>
<text x="407.40" y="626.48" font-size="12.9" text-anchor="end" fill="#0a0a0a" >300</text>
<text x="407.40" y="574.08" font-size="12.9" text-anchor="end" fill="#0a0a0a" >400</text>
<line x1="452.80" y1="779.19" x2="452.80" y2="788.49" stroke="#0a0a0a" stroke-width="1.4"/>
<text x="453.50" y="802.80" font-size="13.1" text-anchor="middle" font-style="italic" fill="#0a0a0a" >Efna1</text>
<line x1="527.90" y1="779.19" x2="527.90" y2="788.49" stroke="#0a0a0a" stroke-width="1.4"/>
<text x="528.60" y="802.80" font-size="13.1" text-anchor="middle" font-style="italic" fill="#0a0a0a" >EphA2</text>
<text transform="translate(361.00,730.46) rotate(-90)" font-size="12.9" fill="#0a0a0a">mRNA expression,</text>
<text transform="translate(376.00,724.26) rotate(-90)" font-size="12.9" fill="#0a0a0a">% of Veh treated</text>
<text x="429.80" y="572.30" font-size="12.9" fill="#0a0a0a"><tspan font-style="italic">p</tspan>= 0.96</text>
<line x1="437.00" y1="581.90" x2="465.00" y2="581.90" stroke="#0a0a0a" stroke-width="1.4"/>
<text x="508.10" y="572.30" font-size="12.9" fill="#0a0a0a"><tspan font-style="italic">p</tspan>= 0.61</text>
<line x1="514.60" y1="582.50" x2="542.60" y2="582.50" stroke="#0a0a0a" stroke-width="1.4"/>
<circle cx="597.00" cy="640.80" r="3.75" fill="#14803f"/>
<text x="624.30" y="645.40" font-size="12.9" text-anchor="start" fill="#0a0a0a" >Veh</text>
<circle cx="597.00" cy="665.60" r="3.5" fill="none" stroke="#14803f" stroke-width="1.35"/>
<text x="624.30" y="669.20" font-size="12.9" text-anchor="start" fill="#0a0a0a" >PTH</text>
<circle cx="438.40" cy="595.30" r="3.75" fill="#14803f"/>
<circle cx="438.40" cy="706.50" r="3.75" fill="#14803f"/>
<circle cx="432.60" cy="711.10" r="3.75" fill="#14803f"/>
<circle cx="444.50" cy="713.50" r="3.75" fill="#14803f"/>
<circle cx="438.40" cy="717.40" r="3.75" fill="#14803f"/>
<circle cx="444.50" cy="747.80" r="3.75" fill="#14803f"/>
<circle cx="438.40" cy="749.70" r="3.75" fill="#14803f"/>
<circle cx="444.50" cy="755.30" r="3.75" fill="#14803f"/>
<circle cx="438.40" cy="758.10" r="3.75" fill="#14803f"/>
<circle cx="441.20" cy="769.20" r="3.75" fill="#14803f"/>
<circle cx="435.60" cy="770.60" r="3.75" fill="#14803f"/>
<circle cx="466.90" cy="627.30" r="3.5" fill="none" stroke="#14803f" stroke-width="1.35"/>
<circle cx="466.90" cy="686.50" r="3.5" fill="none" stroke="#14803f" stroke-width="1.35"/>
<circle cx="469.00" cy="694.70" r="3.5" fill="none" stroke="#14803f" stroke-width="1.35"/>
<circle cx="464.70" cy="701.50" r="3.5" fill="none" stroke="#14803f" stroke-width="1.35"/>
<circle cx="464.70" cy="719.00" r="3.5" fill="none" stroke="#14803f" stroke-width="1.35"/>
<circle cx="469.40" cy="724.60" r="3.5" fill="none" stroke="#14803f" stroke-width="1.35"/>
<circle cx="464.60" cy="728.50" r="3.5" fill="none" stroke="#14803f" stroke-width="1.35"/>
<circle cx="460.70" cy="746.90" r="3.5" fill="none" stroke="#14803f" stroke-width="1.35"/>
<circle cx="460.70" cy="754.20" r="3.5" fill="none" stroke="#14803f" stroke-width="1.35"/>
<circle cx="468.00" cy="753.10" r="3.5" fill="none" stroke="#14803f" stroke-width="1.35"/>
<circle cx="473.20" cy="749.20" r="3.5" fill="none" stroke="#14803f" stroke-width="1.35"/>
<circle cx="514.40" cy="615.60" r="3.75" fill="#14803f"/>
<circle cx="510.90" cy="696.10" r="3.75" fill="#14803f"/>
<circle cx="517.30" cy="694.30" r="3.75" fill="#14803f"/>
<circle cx="514.20" cy="710.40" r="3.75" fill="#14803f"/>
<circle cx="514.20" cy="736.40" r="3.75" fill="#14803f"/>
<circle cx="520.40" cy="746.30" r="3.75" fill="#14803f"/>
<circle cx="508.00" cy="751.90" r="3.75" fill="#14803f"/>
<circle cx="514.20" cy="754.30" r="3.75" fill="#14803f"/>
<circle cx="520.40" cy="753.70" r="3.75" fill="#14803f"/>
<circle cx="510.90" cy="768.00" r="3.75" fill="#14803f"/>
<circle cx="517.30" cy="766.70" r="3.75" fill="#14803f"/>
<circle cx="542.60" cy="645.40" r="3.5" fill="none" stroke="#14803f" stroke-width="1.35"/>
<circle cx="539.90" cy="707.90" r="3.5" fill="none" stroke="#14803f" stroke-width="1.35"/>
<circle cx="545.80" cy="711.20" r="3.5" fill="none" stroke="#14803f" stroke-width="1.35"/>
<circle cx="542.70" cy="717.80" r="3.5" fill="none" stroke="#14803f" stroke-width="1.35"/>
<circle cx="542.70" cy="727.70" r="3.5" fill="none" stroke="#14803f" stroke-width="1.35"/>
<circle cx="542.70" cy="740.70" r="3.5" fill="none" stroke="#14803f" stroke-width="1.35"/>
<circle cx="548.90" cy="740.10" r="3.5" fill="none" stroke="#14803f" stroke-width="1.35"/>
<circle cx="536.50" cy="747.90" r="3.5" fill="none" stroke="#14803f" stroke-width="1.35"/>
<circle cx="542.70" cy="751.60" r="3.5" fill="none" stroke="#14803f" stroke-width="1.35"/>
<circle cx="548.90" cy="750.60" r="3.5" fill="none" stroke="#14803f" stroke-width="1.35"/>
<circle cx="542.70" cy="761.20" r="3.5" fill="none" stroke="#14803f" stroke-width="1.35"/>
<line x1="428.80" y1="726.80" x2="448.00" y2="726.80" stroke="#0a0a0a" stroke-width="1.4"/>
<line x1="438.40" y1="711.60" x2="438.40" y2="741.90" stroke="#0a0a0a" stroke-width="1.4"/>
<line x1="433.70" y1="711.60" x2="443.10" y2="711.60" stroke="#0a0a0a" stroke-width="1.4"/>
<line x1="433.70" y1="741.90" x2="443.10" y2="741.90" stroke="#0a0a0a" stroke-width="1.4"/>
<line x1="457.20" y1="717.00" x2="476.40" y2="717.00" stroke="#0a0a0a" stroke-width="1.4"/>
<line x1="466.80" y1="705.30" x2="466.80" y2="728.50" stroke="#0a0a0a" stroke-width="1.4"/>
<line x1="462.10" y1="705.30" x2="471.50" y2="705.30" stroke="#0a0a0a" stroke-width="1.4"/>
<line x1="462.10" y1="728.50" x2="471.50" y2="728.50" stroke="#0a0a0a" stroke-width="1.4"/>
<line x1="504.80" y1="726.80" x2="524.00" y2="726.80" stroke="#0a0a0a" stroke-width="1.4"/>
<line x1="514.40" y1="713.20" x2="514.40" y2="740.50" stroke="#0a0a0a" stroke-width="1.4"/>
<line x1="509.70" y1="713.20" x2="519.10" y2="713.20" stroke="#0a0a0a" stroke-width="1.4"/>
<line x1="509.70" y1="740.50" x2="519.10" y2="740.50" stroke="#0a0a0a" stroke-width="1.4"/>
<line x1="533.10" y1="727.50" x2="552.30" y2="727.50" stroke="#0a0a0a" stroke-width="1.4"/>
<line x1="542.70" y1="717.80" x2="542.70" y2="737.40" stroke="#0a0a0a" stroke-width="1.4"/>
<line x1="538.00" y1="717.80" x2="547.40" y2="717.80" stroke="#0a0a0a" stroke-width="1.4"/>
<line x1="538.00" y1="737.40" x2="547.40" y2="737.40" stroke="#0a0a0a" stroke-width="1.4"/>
</svg>
</body></html>
